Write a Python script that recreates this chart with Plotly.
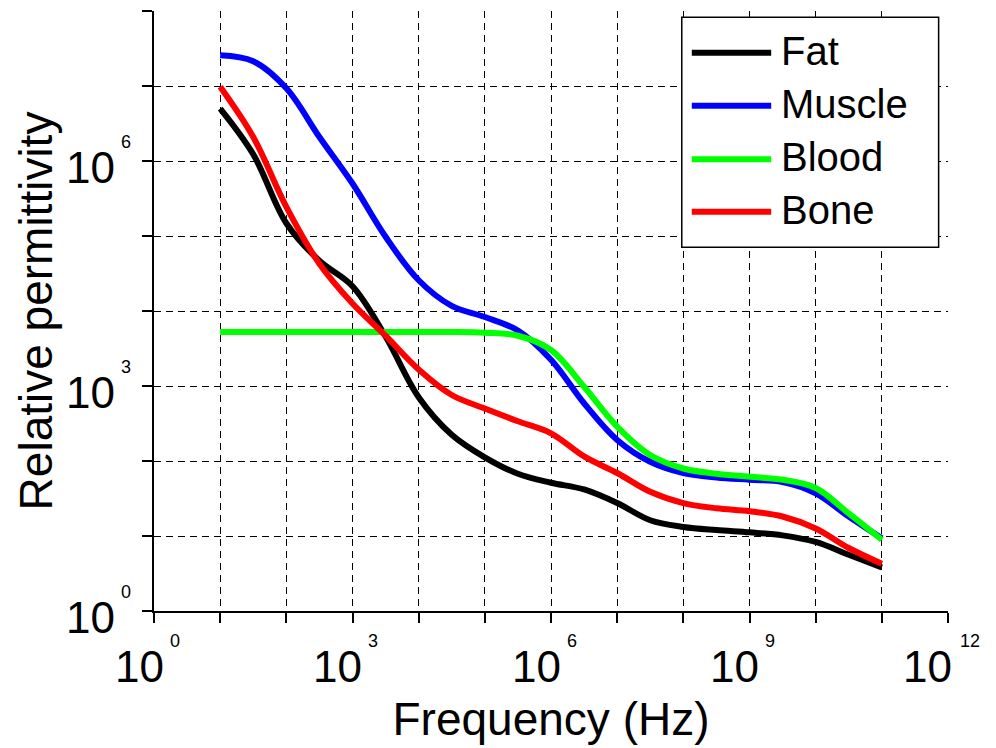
import plotly.graph_objects as go

# ---------------- data ----------------
# frequency samples every half decade, 10 Hz ... 100 GHz
freq_hz = [1e1, 3.16e1, 1e2, 3.16e2, 1e3, 3.16e3, 1e4, 3.16e4, 1e5, 3.16e5,
           1e6, 3.16e6, 1e7, 3.16e7, 1e8, 3.16e8, 1e9, 3.16e9, 1e10, 3.16e10, 1e11]

fat_eps = [5.01e6, 1.23e6, 1.48e5, 4.68e4, 2.14e4, 4570, 708, 224, 112, 67.6,
           51.3, 41.7, 27.5, 16.2, 13.2, 12.0, 11.2, 10.2, 8.32, 5.62, 3.80]
muscle_eps = [2.57e7, 2.14e7, 9.33e6, 2.09e6, 5.01e5, 9.77e4, 2.57e4, 1.17e4,
              8320, 5500, 2240, 589, 191, 97.7, 69.2, 60.3, 56.2, 52.5, 37.2,
              18.2, 9.33]
blood_eps = [5250, 5250, 5250, 5250, 5250, 5250, 5250, 5250, 5130, 4680,
             3020, 977, 288, 120, 79.4, 67.6, 61.7, 56.2, 43.7, 20.0, 8.91]
bone_eps = [9.77e6, 2.09e6, 2.45e5, 4.27e4, 1.26e4, 4680, 1660, 759, 501, 339,
            234, 115, 69.2, 38.9, 27.5, 23.4, 21.4, 18.2, 12.6, 6.92, 4.27]

series_names = ["Fat", "Muscle", "Blood", "Bone"]
series_colors = ["#000000", "#0000ff", "#00ff00", "#ff0000"]

x_tick_exponents = [0, 1, 2, 3, 4, 5, 6, 7, 8, 9, 10, 11, 12]
y_tick_exponents = [0, 1, 2, 3, 4, 5, 6, 7, 8]
x_label_exponents = ["0", "3", "6", "9", "12"]
y_label_exponents = ["0", "3", "6"]

x_title = "Frequency (Hz)"
y_title = "Relative permittivity"

FONT = "Liberation Sans, Arial, Helvetica, sans-serif"

# ---------------- figure ----------------
fig = go.Figure()
for ys, name, col in zip([fat_eps, muscle_eps, blood_eps, bone_eps], series_names, series_colors):
    fig.add_trace(go.Scatter(
        x=freq_hz, y=ys, mode="lines", name=name,
        line=dict(color=col, width=6, shape="spline", smoothing=1.0),
        showlegend=False,
    ))

axis_common = dict(
    type="log",
    showline=True, linecolor="black", linewidth=2,
    ticks="outside", ticklen=10, tickwidth=1.5, tickcolor="black",
    showgrid=True, gridcolor="black", gridwidth=1.3, griddash="7px,5px",
    zeroline=False, showticklabels=False,
)

fig.update_xaxes(
    range=[0, 12],
    tickvals=[10 ** e for e in x_tick_exponents],
    title=dict(text=x_title, font=dict(family=FONT, size=46, color="black"), standoff=81),
    automargin=False,
    **axis_common,
)
fig.update_yaxes(
    range=[0, 8],
    tickvals=[10 ** e for e in y_tick_exponents],
    title=dict(text=y_title, font=dict(family=FONT, size=46, color="black"), standoff=75),
    automargin=False,
    **axis_common,
)

annotations = []
# x tick labels "10" with raised exponent
for ex in x_label_exponents:
    n = len(ex)
    annotations.append(dict(
        x=int(ex), xref="x", y=0, yref="paper", text="10", showarrow=False,
        xanchor="center", yanchor="middle", xshift=-14.7 - 5.4 * (n - 1), yshift=-55,
        font=dict(family=FONT, size=44, color="black"),
    ))
    annotations.append(dict(
        x=int(ex), xref="x", y=0, yref="paper", text=ex, showarrow=False,
        xanchor="center", yanchor="middle", xshift=20.7 + 1.1 * (n - 1), yshift=-30,
        font=dict(family=FONT, size=18, color="black"),
    ))
# y tick labels
for ex in y_label_exponents:
    annotations.append(dict(
        x=0, xref="paper", y=int(ex), yref="y", text="10", showarrow=False,
        xanchor="center", yanchor="middle", xshift=-63.2, yshift=-6.5,
        font=dict(family=FONT, size=44, color="black"),
    ))
    annotations.append(dict(
        x=0, xref="paper", y=int(ex), yref="y", text=ex, showarrow=False,
        xanchor="center", yanchor="middle", xshift=-27.6, yshift=19,
        font=dict(family=FONT, size=18, color="black"),
    ))

# manual legend (long line samples like the reference)
shapes = [dict(type="rect", xref="paper", yref="paper", x0=0.6647, x1=0.9882,
               y0=0.6062, y1=0.9895, line=dict(color="black", width=1.5),
               fillcolor="white", layer="above")]
legend_rows = [0.9305, 0.8422, 0.7528, 0.6655]
for name, col, ry in zip(series_names, series_colors, legend_rows):
    shapes.append(dict(type="line", xref="paper", yref="paper", x0=0.6773, x1=0.7773,
                       y0=ry, y1=ry, line=dict(color=col, width=6), layer="above"))
    annotations.append(dict(
        x=0.7874, xref="paper", y=ry + 2 / 600, yref="paper", text=name, showarrow=False,
        xanchor="left", yanchor="middle",
        font=dict(family=FONT, size=40, color="black"),
    ))

fig.update_layout(
    width=996, height=748,
    margin=dict(l=154, r=48, t=11, b=137, pad=0),
    paper_bgcolor="white", plot_bgcolor="white",
    font=dict(family=FONT, color="black"),
    annotations=annotations, shapes=shapes,
    showlegend=False,
)

fig.write_html("out.html")
